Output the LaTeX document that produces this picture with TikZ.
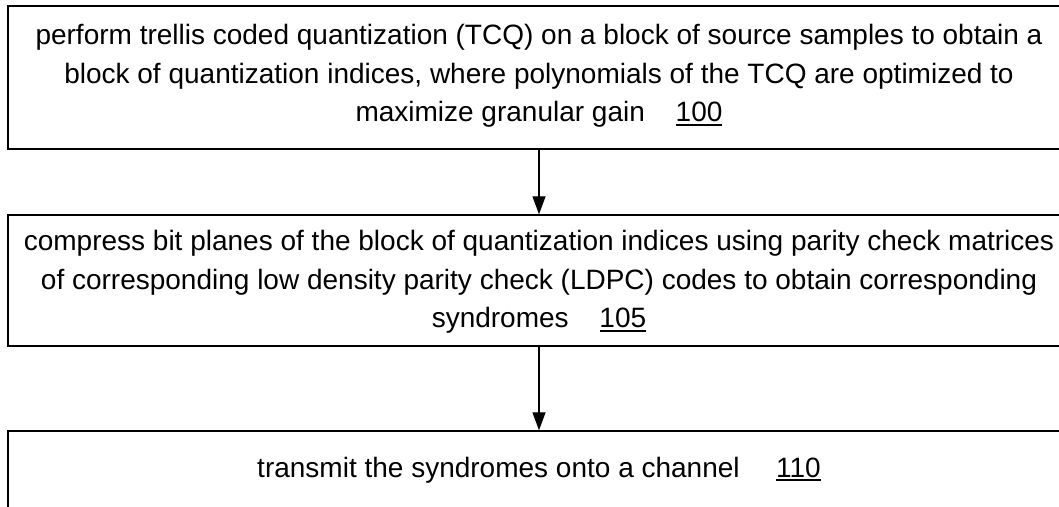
\documentclass[tikz,border=0pt]{standalone}
\usepackage{fontspec}
\setmainfont{Liberation Sans}
\usetikzlibrary{arrows.meta}
\newcommand{\refnum}[1]{\leavevmode\vtop{\hbox{#1}\kern2.2pt\hrule height1.7pt}}
\begin{document}
\begin{tikzpicture}[x=1pt,y=-1pt,
  box/.style={draw, line width=1.5pt, minimum width=1062pt, inner sep=0pt},
  txt/.style={align=center, font=\fontsize{28}{38.5}\selectfont, inner sep=0pt},
  arr/.style={-{Triangle[length=18pt,width=13pt]}, line width=1.4pt}]
\clip (0,0) rectangle (1059,506);
\node[box, minimum height=143pt] (b1) at (539,77.5) {};
\node[box, minimum height=131pt] (b2) at (539,280.5) {};
\node[box, minimum height=140pt] (b3) at (539,501) {};
\node[txt] (t1) at (539,76) {perform trellis coded quantization (TCQ) on a block of source samples to obtain a\\
block of quantization indices, where polynomials of the TCQ are optimized to\\
maximize granular gain\hspace{1.1em}\refnum{100}};
\node[txt] (t2) at (539,282) {compress bit planes of the block of quantization indices using parity check matrices\\
of corresponding low density parity check (LDPC) codes to obtain corresponding\\
syndromes\hspace{1.1em}\refnum{105}};
\node[txt, anchor=base] (t3) at (539,477) {transmit the syndromes onto a channel\hspace{1.3em}\refnum{110}};
\draw[arr] (b1.south) -- (b2.north);
\draw[arr] (b2.south) -- (b3.north);
\end{tikzpicture}
\end{document}
